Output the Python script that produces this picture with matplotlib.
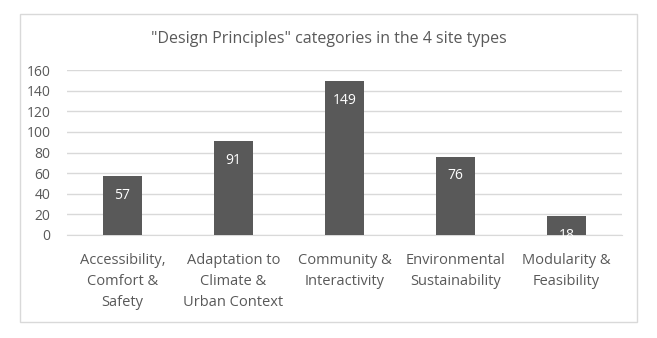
import matplotlib.pyplot as plt
from matplotlib.patches import Rectangle

categories = ["Accessibility,\nComfort &\nSafety",
              "Adaptation to\nClimate &\nUrban Context",
              "Community &\nInteractivity",
              "Environmental\nSustainability",
              "Modularity &\nFeasibility"]
counts = [57, 91, 149, 76, 18]
yticks = [0, 20, 40, 60, 80, 100, 120, 140, 160]

plt.rcParams['font.family'] = ['Open Sans', 'DejaVu Sans']
txt = '#595959'
grid = '#d9d9d9'

fig = plt.figure(figsize=(6.57, 3.38), dpi=100)
# outer chart border
fig.patches.append(Rectangle((20 / 657, 1 - 322 / 338), 617 / 657, 308 / 338,
                             transform=fig.transFigure, fill=False,
                             edgecolor=grid, linewidth=1))
ax = fig.add_axes([67 / 657, 1 - 235 / 338, 555 / 657, 165 / 338])

x = range(len(categories))
bars = ax.bar(x, counts, width=0.36, color='#595959', zorder=3)
for b, v in zip(bars, counts):
    ax.annotate(str(v), (b.get_x() + b.get_width() / 2, v),
                xytext=(0, -19), textcoords='offset pixels',
                ha='center', va='center', color='white', fontsize=10, zorder=4)

ax.set_xlim(-0.5, len(categories) - 0.5)
ax.set_ylim(0, 160)
ax.set_yticks(yticks)
ax.set_xticks(list(x))
ax.set_xticklabels(categories, fontsize=10.5, color=txt, linespacing=1.55)
ax.tick_params(axis='y', labelsize=10, labelcolor=txt, length=0, pad=12)
ax.tick_params(axis='x', length=0, pad=13)
ax.grid(axis='y', color=grid, linewidth=1, zorder=0)
for s in ['top', 'right', 'left']:
    ax.spines[s].set_visible(False)
ax.spines['bottom'].set_color(grid)

fig.text(0.5, 1 - 39 / 338, '"Design Principles" categories in the 4 site types',
         ha='center', va='center', fontsize=11.5, color=txt)

fig.savefig('out.png', dpi=100, facecolor='white')
